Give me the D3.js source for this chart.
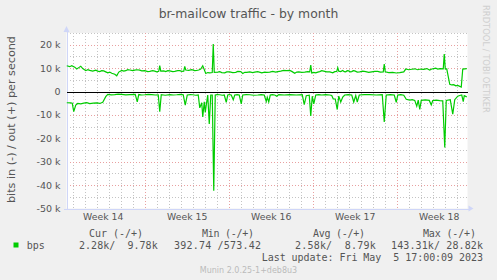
<!DOCTYPE html>
<html><head><meta charset="utf-8">
<script src="https://cdn.jsdelivr.net/npm/d3@7"></script>
<style>
body{margin:0;background:#F0F0F0}
svg{display:block}
text{font-family:"DejaVu Sans",sans-serif}
.mono{font-family:"DejaVu Sans Mono",monospace;white-space:pre}
</style>
</head><body><svg id="c" width="497" height="280"></svg>
<script>
// ---------- data ----------
const title = "br-mailcow traffic - by month";
const yLabel = "bits in (-) / out (+) per second";
const yTicks = [20, 10, 0, -10, -20, -30, -40, -50];
const weekLabels = ["Week 14", "Week 15", "Week 16", "Week 17", "Week 18"];
const weekStarts = ["2023-04-02", "2023-04-09", "2023-04-16", "2023-04-23", "2023-04-30"];
const startTime = "2023-04-02T10:30:00Z";
const endTime = "2023-05-05T20:30:00Z";
const baseTime = "2023-04-02T00:00:00Z"; // series times are hours after this
// out (+) traffic, [hours, kbit/s]
const outSeries = [[11,11.0],[17,10.6],[21,11.0],[27,10.4],[31,9.6],[35,10.2],[39,10.8],[43,9.8],[49,8.9],[53,9.3],[57,9.0],[63,8.7],[69,9.1],[73,8.7],[77,8.5],[81,8.9],[85,8.8],[89,8.4],[93,8.0],[97,8.3],[101,7.8],[107,7.4],[111,6.7],[115,8.3],[121,9.0],[125,8.7],[129,8.9],[133,9.3],[137,9.2],[143,8.9],[147,9.1],[151,9.3],[157,9.1],[161,8.8],[167,8.9],[173,8.5],[177,8.6],[183,8.9],[187,8.7],[191,8.4],[195,8.6],[197,11.1],[199,8.7],[205,8.8],[209,8.5],[213,8.9],[217,8.8],[223,8.5],[227,8.6],[233,8.9],[237,8.9],[241,8.6],[245,8.7],[247,10.7],[249,9.2],[255,9.0],[261,9.3],[267,8.9],[271,9.0],[275,9.2],[279,9.6],[283,11.0],[289,7.7],[293,8.1],[297,8.0],[302,8.1],[304,20.3],[306,8.2],[313,8.3],[317,8.5],[321,8.1],[327,8.0],[331,8.4],[337,8.4],[343,8.1],[349,8.2],[353,8.6],[359,8.5],[363,7.7],[367,8.2],[371,8.2],[377,8.4],[383,8.1],[387,8.3],[393,8.5],[401,8.0],[407,8.3],[411,8.2],[417,8.3],[423,8.6],[429,8.3],[433,8.5],[439,8.7],[445,9.0],[451,8.9],[457,9.0],[461,8.6],[467,7.8],[471,8.3],[475,8.4],[481,8.2],[487,8.3],[493,8.5],[497,8.4],[499,11.3],[501,7.9],[505,8.2],[509,8.0],[513,8.3],[517,8.5],[521,8.9],[527,8.6],[531,8.4],[537,8.4],[543,8.0],[547,8.5],[551,8.6],[553,10.2],[555,8.7],[559,8.5],[563,9.0],[566,8.5],[569,8.4],[572,8.9],[575,8.8],[578,8.4],[581,8.5],[584,8.9],[587,8.8],[592,8.3],[597,8.4],[603,8.7],[609,8.5],[615,8.2],[621,8.4],[627,8.6],[633,8.6],[638,8.3],[644,8.4],[646,11.7],[648,8.4],[655,8.1],[663,8.2],[670,7.9],[677,8.1],[685,8.4],[689,9.6],[695,9.3],[701,9.5],[707,9.7],[713,9.3],[719,9.6],[725,9.5],[731,9.8],[737,9.2],[741,9.6],[745,9.8],[749,10.0],[753,9.6],[758,9.8],[764,9.7],[766,16.0],[768,9.7],[771,9.7],[777,3.1],[781,2.8],[785,2.9],[789,2.4],[793,2.6],[800,1.9],[803,9.6],[811,9.8]];
// in (-) traffic, [hours, kbit/s] (drawn below zero)
const inSeries = [[11,4.8],[19,4.9],[22,5.0],[25,8.6],[29,5.8],[33,5.1],[39,5.3],[45,5.0],[51,4.8],[57,5.2],[64,5.0],[71,4.9],[77,5.1],[83,4.6],[89,2.2],[93,1.2],[100,1.4],[107,1.3],[114,1.1],[121,1.2],[129,1.4],[137,1.3],[148,1.2],[152,4.4],[155,1.3],[161,1.5],[167,1.4],[174,1.2],[181,1.3],[188,1.5],[194,1.4],[197,8.6],[200,1.4],[208,1.6],[217,1.3],[224,1.5],[231,1.4],[238,1.2],[244,1.4],[248,5.8],[252,1.5],[258,1.3],[263,1.4],[269,1.6],[274,1.5],[277,7.0],[281,4.8],[283,10.9],[286,4.4],[288,8.9],[290,5.8],[293,1.5],[296,13.9],[299,1.5],[302,1.5],[305,42.4],[308,1.5],[312,1.3],[317,1.4],[322,1.6],[326,1.5],[330,4.6],[333,1.5],[336,1.3],[340,1.5],[344,3.5],[347,1.5],[352,1.3],[356,1.5],[360,5.3],[363,1.5],[370,1.3],[377,1.4],[385,1.6],[393,1.5],[400,1.3],[406,1.5],[410,4.3],[412,2.5],[415,4.5],[418,1.5],[422,1.3],[427,1.5],[431,2.0],[435,1.3],[446,1.5],[457,1.3],[470,1.5],[482,1.3],[486,5.6],[490,1.8],[496,1.6],[499,10.5],[502,2.0],[505,5.3],[509,1.5],[515,1.3],[521,1.5],[529,1.3],[537,1.5],[541,1.7],[544,3.2],[548,3.2],[552,7.7],[555,2.0],[559,4.5],[563,2.4],[567,1.5],[574,1.3],[581,1.5],[585,4.5],[589,1.7],[592,4.5],[596,1.5],[606,1.3],[617,1.3],[630,1.5],[642,1.3],[646,13.0],[650,1.5],[658,1.3],[666,1.5],[670,4.6],[673,1.5],[679,1.3],[685,1.6],[690,3.3],[697,3.7],[702,3.5],[707,3.8],[711,6.3],[714,3.7],[717,7.7],[720,3.8],[728,3.6],[736,3.8],[740,5.7],[743,3.9],[750,3.7],[757,3.9],[763,4.0],[767,23.9],[770,3.8],[778,3.5],[783,9.7],[787,3.5],[793,2.0],[797,1.7],[801,1.5],[804,4.3],[806,1.8],[811,2.3]];
const seriesName = "bps";
const legendHeaders = ["Cur (-/+)", "Min (-/+)", "Avg (-/+)", "Max (-/+)"];
const legendValues = ["2.28k/  9.78k", "392.74 /573.42", "2.58k/  8.79k", "143.31k/ 28.82k"];
const lastUpdate = "Last update: Fri May  5 17:00:09 2023";
const versionText = "Munin 2.0.25-1+deb8u3";
const watermark = "RRDTOOL / TOBI OETIKER";

// ---------- layout ----------
const L = 66.5, R = 467.5, T = 33, B = 208.5;
const svg = d3.select("#c");
const base = new Date(baseTime).getTime();
const toDate = h => new Date(base + h * 3600e3);

const x = d3.scaleUtc().domain([new Date(startTime), new Date(endTime)]).range([L, R]);
const y = d3.scaleLinear().domain([-50, 25]).range([B, T]);

// canvas
svg.append("rect").attr("x", L).attr("y", T).attr("width", R - L).attr("height", B - T).attr("fill", "#fff");

const g = svg.append("g").attr("shape-rendering", "crispEdges");
const px = v => Math.round(v) + 0.5;

// minor vertical grid: days
const days = d3.utcDay.range(x.domain()[0], x.domain()[1]);
g.selectAll(".vmin").data(days).join("line")
  .attr("x1", d => px(x(d))).attr("x2", d => px(x(d))).attr("y1", T).attr("y2", B)
  .attr("stroke", "#c4c4c4").attr("stroke-dasharray", "1,2");
// minor horizontal grid every 5k
const minorY = d3.range(-45, 26, 5).filter(v => v % 10 !== 0);
g.selectAll(".hmin").data(minorY).join("line")
  .attr("x1", L).attr("x2", R).attr("y1", d => px(y(d))).attr("y2", d => px(y(d)))
  .attr("stroke", "#c4c4c4").attr("stroke-dasharray", "1,2");
// major vertical grid: week starts
const weeks = weekStarts.map(s => new Date(s + "T00:00:00Z")).filter(d => x(d) > L);
g.selectAll(".vmaj").data(weeks).join("line")
  .attr("x1", d => px(x(d))).attr("x2", d => px(x(d))).attr("y1", T).attr("y2", B)
  .attr("stroke", "#e8a0a0").attr("stroke-dasharray", "1,2");
// major horizontal grid
g.selectAll(".hmaj").data(yTicks.filter(v => v !== 0 && v !== -50)).join("line")
  .attr("x1", L).attr("x2", R).attr("y1", d => px(y(d))).attr("y2", d => px(y(d)))
  .attr("stroke", "#e8a0a0").attr("stroke-dasharray", "1,2");

// axes (munin light blue)
const axisC = "#CFD6F8";
g.append("line").attr("x1", px(L) - 0.5).attr("x2", px(L) - 0.5).attr("y1", B + 1).attr("y2", T - 3).attr("stroke", axisC);
g.append("line").attr("x1", L - 3).attr("x2", R + 2).attr("y1", px(B) - 0.5).attr("y2", px(B) - 0.5).attr("stroke", axisC);
svg.append("path").attr("d", `M${L - 3},${T - 1} L${L},${T - 7} L${L + 3},${T - 1} Z`).attr("fill", axisC);
svg.append("path").attr("d", `M${R + 1},${B - 3} L${R + 6},${B} L${R + 1},${B + 3} Z`).attr("fill", axisC);

// zero line
g.append("line").attr("x1", L).attr("x2", R).attr("y1", px(y(0)) - 0.5).attr("y2", px(y(0)) - 0.5).attr("stroke", "#000");

// series
const line = d3.line().x(d => x(toDate(d[0]))).y(d => y(d[1]));
svg.append("path").datum(outSeries).attr("d", line).attr("fill", "none").attr("stroke", "#00CC00").attr("stroke-width", 1.2);
svg.append("path").datum(inSeries.map(d => [d[0], -d[1]])).attr("d", line).attr("fill", "none").attr("stroke", "#00CC00").attr("stroke-width", 1.2);

// texts
const fc = "#555";
svg.append("text").attr("x", 248.5).attr("y", 17.5).attr("text-anchor", "middle")
  .attr("font-size", 12.4).attr("fill", fc).text(title);

svg.selectAll(".yt").data(yTicks).join("text")
  .attr("x", 60.5).attr("y", d => y(d)).attr("dy", "0.36em").attr("text-anchor", "end")
  .attr("font-size", 9.5).attr("fill", fc).text(d => d === 0 ? "0" : `${d} k`);

svg.append("text").attr("transform", "translate(10.5,119.5) rotate(-90)").attr("text-anchor", "middle")
  .attr("dy", "0.36em").attr("font-size", 11.2).attr("fill", fc).text(yLabel);

svg.selectAll(".wk").data(weekLabels).join("text")
  .attr("x", (d, i) => x(new Date(new Date(weekStarts[i] + "T00:00:00Z").getTime() + 3.5 * 864e5)))
  .attr("y", 219.6).attr("text-anchor", "middle").attr("font-size", 9.3).attr("fill", fc).text(d => d);

// legend
const hdrX = [89, 202, 313, 423], hdrW = [54, 52, 52, 53];
svg.selectAll(".lh").data(legendHeaders).join("text").attr("class", "mono")
  .attr("x", (d, i) => hdrX[i]).attr("y", 237).attr("font-size", 10)
  .attr("textLength", (d, i) => hdrW[i]).attr("lengthAdjust", "spacing").attr("fill", fc).text(d => d);
svg.append("rect").attr("x", 13.5).attr("y", 242.5).attr("width", 5).attr("height", 5).attr("fill", "#00CC00");
svg.append("text").attr("class", "mono").attr("x", 26.7).attr("y", 248.6).attr("font-size", 10).attr("fill", fc).text(seriesName);
const valX = [79, 174, 295, 391], valW = [78.7, 87, 80.7, 92];
svg.selectAll(".lv").data(legendValues).join("text").attr("class", "mono")
  .attr("x", (d, i) => valX[i]).attr("y", 248.6).attr("font-size", 10)
  .attr("textLength", (d, i) => valW[i]).attr("lengthAdjust", "spacing").attr("fill", fc).text(d => d);
svg.append("text").attr("class", "mono").attr("x", 261.7).attr("y", 261).attr("font-size", 10)
  .attr("textLength", 221.3).attr("lengthAdjust", "spacing").attr("fill", fc).text(lastUpdate);
svg.append("text").attr("x", 248.5).attr("y", 272.5).attr("text-anchor", "middle")
  .attr("font-size", 8).attr("fill", "#bbb").text(versionText);
svg.append("text").attr("transform", "translate(486.5,5) rotate(90)").attr("dy", "0.36em")
  .attr("font-size", 8.4).attr("fill", "#cfcfcf").text(watermark);
</script></body></html>
